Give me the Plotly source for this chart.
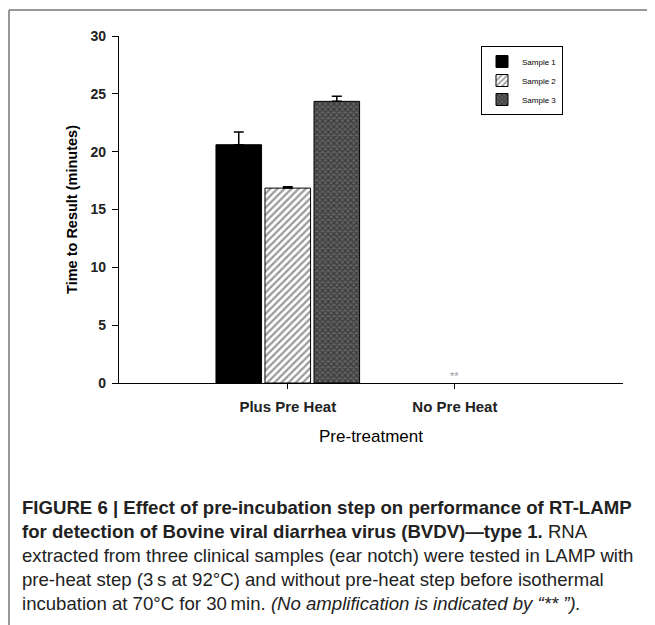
import plotly.graph_objects as go

categories = ["Plus Pre Heat", "No Pre Heat"]
series_names = ["Sample 1", "Sample 2", "Sample 3"]
# None = no amplification (marked "**")
sample1 = [20.6, None]
sample2 = [16.85, None]
sample3 = [24.35, None]
err1 = [1.1, None]
err2 = [0.12, None]
err3 = [0.45, None]
y_ticks = [0, 5, 10, 15, 20, 25, 30]
no_amp_label = "**"

caption_lines = [
    "<b>FIGURE 6 | Effect of pre-incubation step on performance of RT-LAMP</b>",
    "<b>for detection of Bovine viral diarrhea virus (BVDV)\u2014type 1.</b> RNA",
    "extracted from three clinical samples (ear notch) were tested in LAMP with",
    "pre-heat step (3\u2009s at 92\u00b0C) and without pre-heat step before isothermal",
    "incubation at 70\u00b0C for 30\u2009min. <i>(No amplification is indicated by \u201c** \u201d).</i>",
]

OFF = 8  # page body margin in the browser
W, H = 655, 625
L, T = 119 - OFF, 36 - OFF
pw, ph = 504, 347
R, B = W - L - pw, H - T - ph

def px_x(p):
    return (p - OFF - L) / pw

def px_y(p):
    return (T + ph - (p - OFF)) / ph

fig = go.Figure()
styles = [
    dict(color="black", pattern=None),
    dict(color="white", pattern=dict(shape="/", fgcolor="#333", bgcolor="white", size=5, solidity=0.45)),
    dict(color="#444", pattern=dict(shape="x", fgcolor="#111", bgcolor="#626262", size=4, solidity=0.5)),
]
for name, vals, errs, st in zip(series_names, [sample1, sample2, sample3], [err1, err2, err3], styles):
    marker = dict(color=st["color"], line=dict(color="black", width=1))
    if st["pattern"]:
        marker["pattern"] = st["pattern"]
    fig.add_trace(go.Bar(
        x=categories, y=vals, name=name, marker=marker,
        error_y=dict(type="data", array=errs, arrayminus=[0] * len(errs), symmetric=False,
                     color="black", thickness=1.5, width=5, visible=True),
    ))

# "**" marker for no amplification
fig.add_annotation(x=categories[1], y=0, text=no_amp_label, showarrow=False,
                   yanchor="bottom", yshift=-1, font=dict(size=11, color="#999", family="Arial"))

# caption
line_y = [507, 531, 555, 579, 603]
for txt, yy in zip(caption_lines, line_y):
    fig.add_annotation(x=px_x(20), y=px_y(yy), xref="paper", yref="paper", text=txt,
                       showarrow=False, xanchor="left", yanchor="middle", align="left",
                       font=dict(size=18.6, color="#222", family="Liberation Sans, Arial"))

# outer frame (top & left)
fig.add_shape(type="line", xref="paper", yref="paper", x0=px_x(9), x1=px_x(720), y0=px_y(10), y1=px_y(10),
              line=dict(color="#777", width=1.5))
fig.add_shape(type="line", xref="paper", yref="paper", x0=px_x(9), x1=px_x(9), y0=px_y(10), y1=px_y(720),
              line=dict(color="#777", width=1.5))

fig.update_layout(
    width=W, height=H,
    margin=dict(l=L, r=R, t=T, b=B, autoexpand=False),
    paper_bgcolor="white", plot_bgcolor="white",
    barmode="group", bargap=0.12, bargroupgap=0.07,
    font=dict(family="Arial, Liberation Sans", color="black"),
    legend=dict(x=px_x(481), y=px_y(46), xanchor="left", yanchor="top",
                bordercolor="black", borderwidth=1, bgcolor="white",
                font=dict(size=8, family="Arial"), tracegroupgap=0, itemwidth=30),
    showlegend=True,
)
fig.update_xaxes(type="category", range=[-1.01, 2.006], showline=True, linecolor="black", linewidth=1.2,
                 ticks="outside", ticklen=5, tickcolor="black", showgrid=False, zeroline=False,
                 tickfont=dict(size=15, family="Arial", color="#222", weight="bold"), ticklabelstandoff=5,
                 title=dict(text="Pre-treatment", font=dict(size=17, family="Arial"), standoff=16))
fig.update_yaxes(range=[0, 30], tickvals=y_ticks, showline=True, linecolor="black", linewidth=1.2,
                 ticks="outside", ticklen=6, tickcolor="black", showgrid=False, zeroline=False,
                 tickfont=dict(size=14, family="Arial", color="#222", weight="bold"), ticklabelstandoff=3,
                 title=dict(text="<b>Time to Result (minutes)</b>", font=dict(size=14.5, family="Arial"), standoff=9))

fig.write_html("out.html")
